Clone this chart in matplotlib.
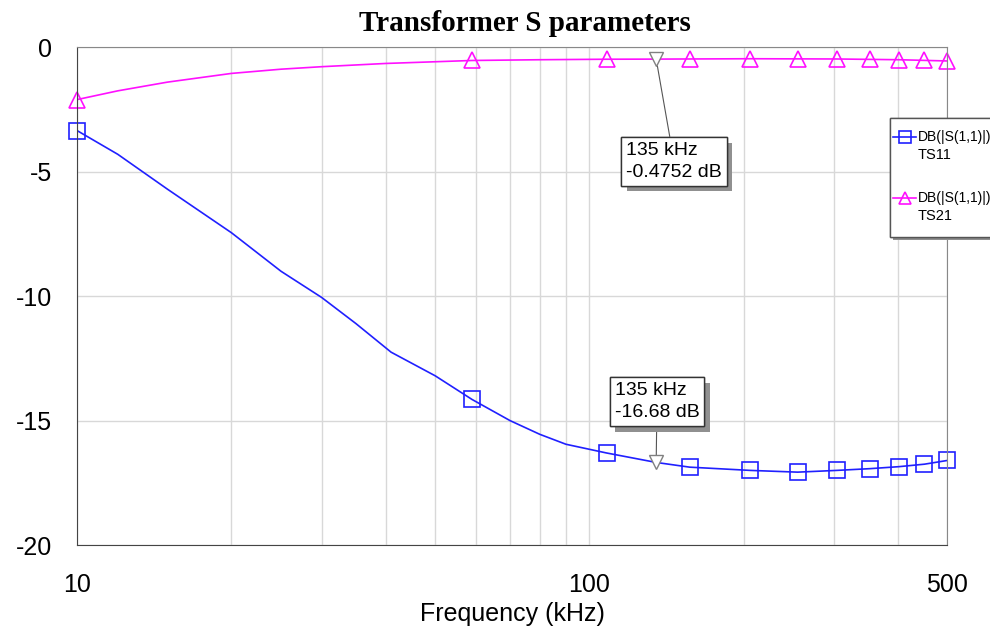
import numpy as np
import matplotlib.pyplot as plt
from matplotlib import patheffects
from matplotlib.patches import Rectangle
from matplotlib.lines import Line2D

plt.rcParams['font.family'] = ['Liberation Sans', 'DejaVu Sans']

# S-parameter curves (frequency in kHz, level in dB)
freq_s11 = [10, 12, 15, 20, 25, 30, 35, 41, 50, 59, 70, 80, 90, 108, 135,
            157, 206, 255, 304, 353, 402, 451, 500]
db_s11 = [-3.35, -4.3, -5.7, -7.45, -9.0, -10.05, -11.1, -12.25, -13.2, -14.15,
          -15.0, -15.55, -15.95, -16.3, -16.68, -16.87, -17.0, -17.07, -17.0,
          -16.93, -16.85, -16.75, -16.6]

freq_s21 = [10, 12, 15, 20, 25, 30, 40, 59, 80, 108, 135, 206, 304, 402, 500]
db_s21 = [-2.1, -1.75, -1.4, -1.05, -0.88, -0.78, -0.65, -0.53, -0.5, -0.48,
          -0.475, -0.46, -0.47, -0.5, -0.55]

# marker positions on each trace
mark_freq = [10, 59, 108, 157, 206, 255, 304, 353, 402, 451, 500]

cursor_freq = 135
cursor_s11 = -16.68
cursor_s21 = -0.4752

blue = '#2020ff'
pink = '#ff10ff'

fig = plt.figure(figsize=(9.9, 6.39), dpi=100)
ax = fig.add_axes([0.078, 0.147, 0.879, 0.779])

ax.plot(freq_s11, db_s11, color=blue, lw=1.2)
ax.plot(mark_freq, np.interp(mark_freq, freq_s11, db_s11), ls='none',
        marker='s', ms=11.5, mfc='none', mec=blue, mew=1.2, clip_on=False)
ax.plot(freq_s21, db_s21, color=pink, lw=1.2)
ax.plot(mark_freq, np.interp(mark_freq, freq_s21, db_s21), ls='none',
        marker='^', ms=12, mfc='none', mec=pink, mew=1.2, clip_on=False)

# cursor markers
ax.plot([cursor_freq, cursor_freq], [cursor_s11, cursor_s21], ls='none',
        marker='v', ms=10, mfc='white', mec='gray', mew=1, zorder=5)

ax.set_xscale('log')
ax.set_xlim(10, 500)
ax.set_ylim(-20, 0)
ax.set_xticks([10, 100, 500])
ax.set_xticklabels(['10', '100', '500'])
ax.set_xticks([20, 30, 40, 50, 60, 70, 80, 90, 200, 300, 400], minor=True)
ax.set_yticks([0, -5, -10, -15, -20])
ax.set_yticklabels(['0', '-5', '-10', '-15', '-20'])
ax.tick_params(axis='both', which='both', length=0, labelsize=18)
ax.tick_params(axis='x', pad=20)
ax.tick_params(axis='y', pad=18)
ax.xaxis.set_minor_formatter(plt.NullFormatter())
ax.grid(True, which='both', color='#d8d8d8', lw=1)
ax.set_axisbelow(True)
for side in ['top', 'right']:
    ax.spines[side].set_color('#888888')
ax.spines['left'].set_color('#444444')
ax.spines['bottom'].set_color('#444444')

ax.set_xlabel('Frequency (kHz)', fontsize=18, labelpad=4)
fig.text(0.53, 0.963, 'Transformer S parameters', ha='center', va='center',
         fontsize=21, fontweight='bold', family='Liberation Serif')

shadow = [patheffects.withSimplePatchShadow(offset=(4, -4),
                                            shadow_rgbFace='#909090', alpha=1),
          patheffects.Normal()]

for y, txt, tx, ty in [(cursor_s21, '135 kHz\n-0.4752 dB', 118, -3.8),
                       (cursor_s11, '135 kHz\n-16.68 dB', 112, -13.45)]:
    ann = ax.annotate(txt, xy=(cursor_freq, y), xytext=(tx, ty),
                      textcoords='data', fontsize=14, ha='left', va='top',
                      linespacing=1.4,
                      bbox=dict(boxstyle='square,pad=0.25', fc='white',
                                ec='#333333', lw=1),
                      arrowprops=dict(arrowstyle='-', color='#555555', lw=0.8,
                                      shrinkA=0, shrinkB=5))
    ann.get_bbox_patch().set_path_effects(shadow)

# legend box, clipped by the right edge of the figure
leg = Rectangle((890 / 990, 1 - 237 / 639), 0.2, 119 / 639,
                transform=fig.transFigure, fc='white', ec='#555555', lw=1)
leg.set_path_effects([patheffects.withSimplePatchShadow(
    offset=(2, -2), shadow_rgbFace='#909090', alpha=1), patheffects.Normal()])
fig.patches.append(leg)
for yc, col, mk, name in [(137, blue, 's', 'TS11'), (198, pink, '^', 'TS21')]:
    yf = 1 - yc / 639
    fig.lines.append(Line2D([893 / 990, 916 / 990], [yf, yf],
                            transform=fig.transFigure, color=col, lw=1.2))
    fig.lines.append(Line2D([904.5 / 990], [yf], transform=fig.transFigure,
                            ls='none', marker=mk, ms=9, mfc='none', mec=col,
                            mew=1.2))
    fig.text(918 / 990, yf, 'DB(|S(1,1)|)', fontsize=10, va='center')
    fig.text(918 / 990, yf - 18 / 639, name, fontsize=10.5, va='center')

fig.savefig('out.png', dpi=100)
